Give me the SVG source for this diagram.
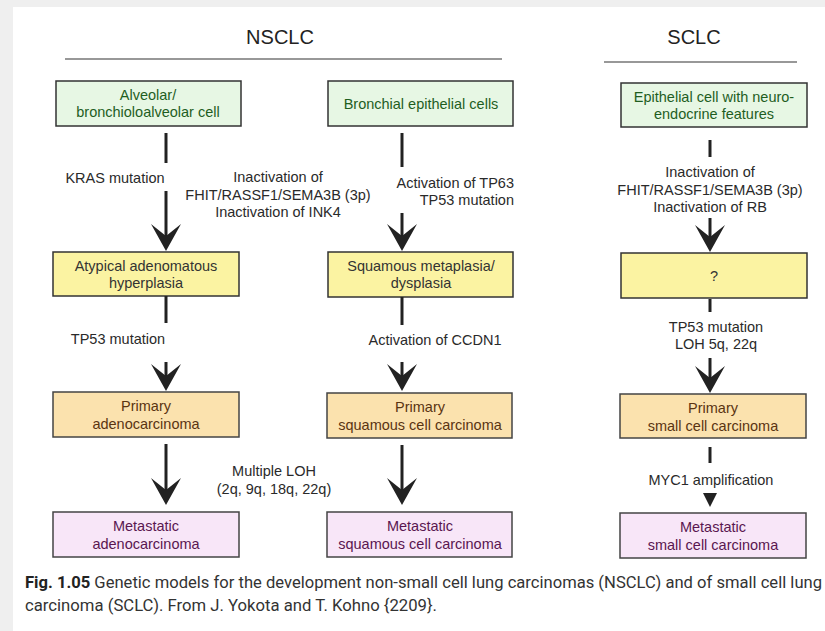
<svg xmlns="http://www.w3.org/2000/svg" width="825" height="631" viewBox="0 0 825 631">
<defs>
<style>
text{font-family:"Liberation Sans",Arial,sans-serif;}
.lbl{font-size:14.5px;fill:#2a2a2a;text-anchor:middle;}
.lr{text-anchor:end;}
.bt{font-size:14.5px;text-anchor:middle;}
.g rect{fill:#e7f7e4;stroke:#333;stroke-width:1.5;}
.g text{fill:#1f5e1f;}
.y rect{fill:#fbf3a2;stroke:#333;stroke-width:1.5;}
.y text{fill:#333;}
.o rect{fill:#fbe2ae;stroke:#444;stroke-width:1.5;}
.o text{fill:#5a3412;}
.p rect{fill:#f8e6f8;stroke:#444;stroke-width:1.5;}
.p text{fill:#5a1650;}
.sh{stroke:#222;stroke-width:3;fill:none;}
.ah{fill:#222;}
.title{font-size:20px;fill:#222;text-anchor:middle;}
.cap{font-family:"Roboto","Liberation Sans",sans-serif;font-size:16.5px;fill:#333;}
</style>
</defs>
<rect x="0" y="0" width="825" height="631" fill="#efefef"/>
<rect x="13" y="7" width="812" height="624" fill="#ffffff"/>

<g id="headers">
<text class="title" x="280" y="44">NSCLC</text>
<line x1="65" y1="59" x2="502" y2="59" stroke="#333" stroke-width="1.2"/>
<text class="title" x="694" y="44">SCLC</text>
<line x1="604" y1="62" x2="797" y2="62" stroke="#333" stroke-width="1.2"/>
</g>

<g id="n1" class="g"><rect x="56" y="81" width="185" height="45"/><text class="bt" x="148" y="100">Alveolar/</text><text class="bt" x="148" y="117">bronchioloalveolar cell</text></g>
<g id="n2" class="g"><rect x="328" y="81" width="185" height="45"/><text class="bt" x="421" y="109">Bronchial epithelial cells</text></g>
<g id="n3" class="g"><rect x="621" y="83" width="186" height="44"/><text class="bt" x="714" y="102">Epithelial cell with neuro-</text><text class="bt" x="714" y="119">endocrine features</text></g>

<g id="n4" class="y"><rect x="53" y="252" width="186" height="44"/><text class="bt" x="146" y="271">Atypical adenomatous</text><text class="bt" x="146" y="288">hyperplasia</text></g>
<g id="n5" class="y"><rect x="328" y="252" width="185" height="45"/><text class="bt" x="421" y="271">Squamous metaplasia/</text><text class="bt" x="421" y="288">dysplasia</text></g>
<g id="n6" class="y"><rect x="621" y="253" width="186" height="45"/><text class="bt" x="714" y="281">?</text></g>

<g id="n7" class="o"><rect x="53" y="392" width="186" height="45"/><text class="bt" x="146" y="411">Primary</text><text class="bt" x="146" y="429">adenocarcinoma</text></g>
<g id="n8" class="o"><rect x="327" y="393" width="185" height="45"/><text class="bt" x="420" y="412">Primary</text><text class="bt" x="420" y="430">squamous cell carcinoma</text></g>
<g id="n9" class="o"><rect x="620" y="394" width="186" height="44"/><text class="bt" x="713" y="413">Primary</text><text class="bt" x="713" y="431">small cell carcinoma</text></g>

<g id="n10" class="p"><rect x="53" y="512" width="186" height="45"/><text class="bt" x="146" y="531">Metastatic</text><text class="bt" x="146" y="549">adenocarcinoma</text></g>
<g id="n11" class="p"><rect x="327" y="512" width="185" height="45"/><text class="bt" x="420" y="531">Metastatic</text><text class="bt" x="420" y="549">squamous cell carcinoma</text></g>
<g id="n12" class="p"><rect x="620" y="513" width="186" height="45"/><text class="bt" x="713" y="532">Metastatic</text><text class="bt" x="713" y="550">small cell carcinoma</text></g>

<g id="connectors">
<line class="sh" x1="166" y1="133" x2="166" y2="163"/>
<line class="sh" x1="166" y1="191" x2="166" y2="240"/>
<path class="ah" d="M166,251 L151,224 L166,236 L181,224 Z"/>
<line class="sh" x1="166" y1="296" x2="166" y2="323"/>
<line class="sh" x1="166" y1="362" x2="166" y2="380"/>
<path class="ah" d="M166,391 L151,364 L166,376 L181,364 Z"/>
<line class="sh" x1="166" y1="444" x2="166" y2="494"/>
<path class="ah" d="M166,505 L151,478 L166,490 L181,478 Z"/>
<line class="sh" x1="402" y1="133" x2="402" y2="167"/>
<line class="sh" x1="402" y1="213" x2="402" y2="240"/>
<path class="ah" d="M402,251 L387,224 L402,236 L417,224 Z"/>
<line class="sh" x1="402" y1="297" x2="402" y2="325"/>
<line class="sh" x1="402" y1="362" x2="402" y2="380"/>
<path class="ah" d="M402,391 L387,364 L402,376 L417,364 Z"/>
<line class="sh" x1="402" y1="445" x2="402" y2="494"/>
<path class="ah" d="M402,505 L387,478 L402,490 L417,478 Z"/>
<line class="sh" x1="710" y1="140" x2="710" y2="157"/>
<line class="sh" x1="710" y1="218" x2="710" y2="241"/>
<path class="ah" d="M710,252 L695,225 L710,237 L725,225 Z"/>
<line class="sh" x1="710" y1="299" x2="710" y2="312"/>
<line class="sh" x1="710" y1="358" x2="710" y2="382"/>
<path class="ah" d="M710,393 L695,366 L710,378 L725,366 Z"/>
<line class="sh" x1="710" y1="447" x2="710" y2="463"/>
<path class="ah" d="M703,493 L717,493 L710,507 Z"/>
</g>

<g id="labels">
<text class="lbl" x="115" y="183">KRAS mutation</text>
<text class="lbl" x="278" y="182">Inactivation of</text>
<text class="lbl" x="278" y="200">FHIT/RASSF1/SEMA3B (3p)</text>
<text class="lbl" x="278" y="217">Inactivation of INK4</text>
<text class="lbl lr" x="514" y="188">Activation of TP63</text>
<text class="lbl lr" x="514" y="205">TP53 mutation</text>
<text class="lbl" x="710" y="177">Inactivation of</text>
<text class="lbl" x="710" y="195">FHIT/RASSF1/SEMA3B (3p)</text>
<text class="lbl" x="710" y="212">Inactivation of RB</text>
<text class="lbl" x="118" y="344">TP53 mutation</text>
<text class="lbl" x="435" y="345">Activation of CCDN1</text>
<text class="lbl" x="716" y="332">TP53 mutation</text>
<text class="lbl" x="716" y="349">LOH 5q, 22q</text>
<text class="lbl" x="274" y="476">Multiple LOH</text>
<text class="lbl" x="274" y="494">(2q, 9q, 18q, 22q)</text>
<text class="lbl" x="711" y="485">MYC1 amplification</text>
</g>

<g id="caption">
<text class="cap" x="25" y="588" textLength="797" lengthAdjust="spacingAndGlyphs"><tspan font-weight="bold" fill="#222">Fig. 1.05</tspan> Genetic models for the development non-small cell lung carcinomas (NSCLC) and of small cell lung</text>
<text class="cap" x="25" y="611" textLength="412" lengthAdjust="spacingAndGlyphs">carcinoma (SCLC). From J. Yokota and T. Kohno {2209}.</text>
</g>
</svg>
